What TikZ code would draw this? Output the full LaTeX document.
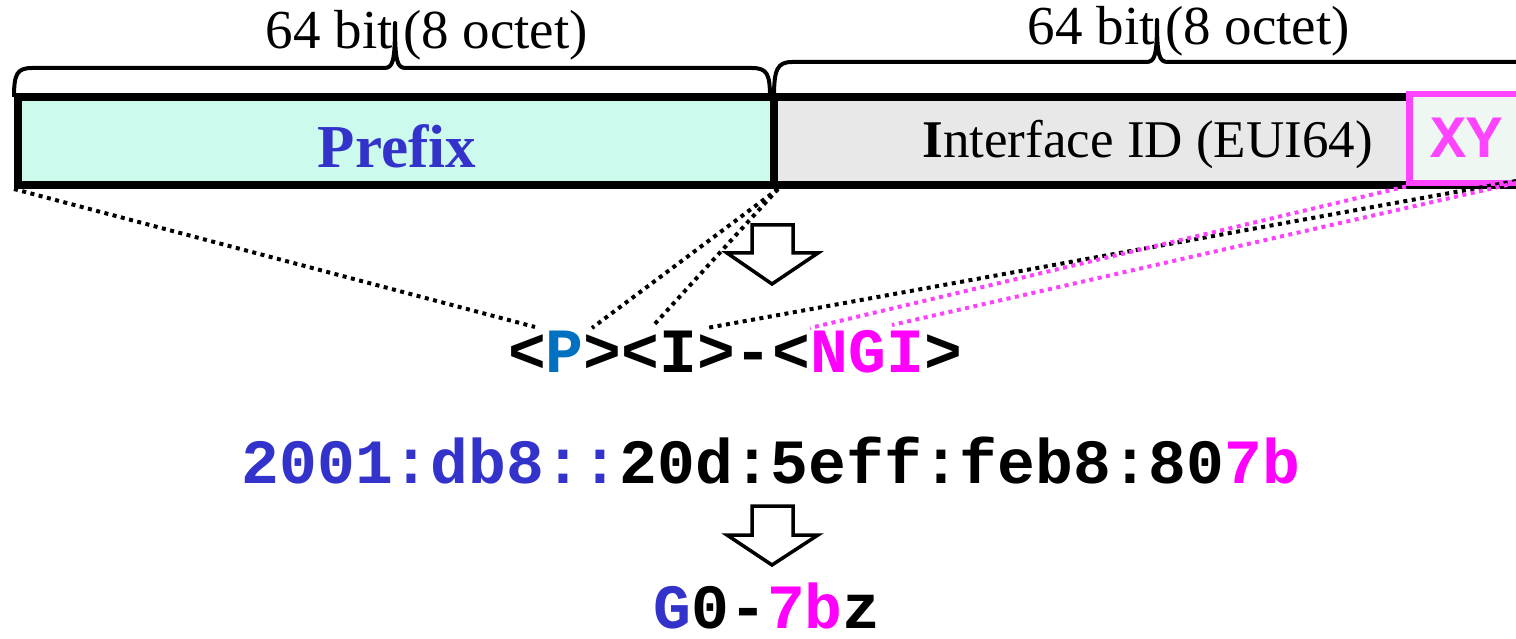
\documentclass[tikz,border=0pt]{standalone}
\usepackage{fontspec}
\setmainfont{Liberation Serif}
\newfontfamily\cour{Liberation Mono}
\definecolor{pfxfill}{HTML}{CCFBEE}
\definecolor{iidfill}{HTML}{E8E8E8}
\definecolor{xyfill}{HTML}{EEF7F2}
\definecolor{pfxblue}{HTML}{3333CC}
\definecolor{pblue}{HTML}{0070C0}
\definecolor{mag}{HTML}{FF00FF}
\definecolor{xymag}{HTML}{FF44FF}
\tikzset{
  field/.style={draw=black, line width=8pt, anchor=north west, inner sep=0pt},
  brace/.style={line width=4pt, line join=round},
  dots/.style={line width=4pt, dash pattern=on 4pt off 4.5pt},
  magdots/.style={dots, draw=mag!75},
  hollow/.style={draw=black, line width=3.5pt, fill=white, line join=miter},
  code/.style={inner sep=0pt, anchor=base, font=\cour\bfseries\fontsize{63}{63}\selectfont},
  lbl/.style={inner sep=0pt, font=\fontsize{55}{55}\selectfont},
}
\begin{document}
\begin{tikzpicture}[x=1pt,y=-1pt]
\useasboundingbox (0,0) rectangle (1516,639);

% address fields
\node[field, fill=iidfill, minimum width=770pt, minimum height=88pt] (iid) at (770,93) {};
\node[field, fill=pfxfill, minimum width=756pt, minimum height=88pt] (pfx) at (14,93) {};
\node[draw=xymag, fill=xyfill, line width=6.5pt, anchor=north west, inner sep=0pt,
      minimum width=130pt, minimum height=89pt] (xy) at (1406,91) {};

\node[inner sep=0pt, anchor=base, text=pfxblue, font=\bfseries\fontsize{61}{61}\selectfont] (ptxt) at (397,168) {Prefix};
\node[inner sep=0pt, anchor=base east, font=\fontsize{53}{53}\selectfont] (itxt) at (1373,158) {\textbf{I}nterface ID (EUI64)};
\node[inner sep=0pt, anchor=base, text=xymag, font=\cour\bfseries\fontsize{60}{60}\selectfont] (xytxt) at (1466,158) {XY};

% size braces
\draw[brace] (14,97) .. controls (14,74) and (17,68) .. (32,68) -- (384,68)
  .. controls (393,68) and (395,62) .. (395,23)
  .. controls (395,62) and (397,68) .. (406,68) -- (752,68)
  .. controls (767,68) and (770,74) .. (770,97);
\draw[brace] (774,97) .. controls (774,70) and (777,62) .. (792,62) -- (1146,62)
  .. controls (1155,62) and (1157,56) .. (1157,20)
  .. controls (1157,56) and (1159,62) .. (1168,62) -- (1520,62)
  .. controls (1535,62) and (1538,70) .. (1538,97);
\node[lbl, anchor=base east] (b1) at (393,49) {64 bit};
\node[lbl, anchor=base west] (o1) at (403,49) {(8 octet)};
\node[lbl, anchor=base east] (b2) at (1155,45) {64 bit};
\node[lbl, anchor=base west] (o2) at (1165,45) {(8 octet)};

% template and address lines
\node[code] (tmpl) at (735,372) {<\textcolor{pblue}{P}><I>-<\textcolor{mag}{NGI}>};
\node[code] (addr) at (771,483) {\textcolor{pfxblue}{2001:db8::}20d:5eff:feb8:80\textcolor{mag}{7b}};
\node[code] (name) at (767,628) {\textcolor{pfxblue}{G}0-\textcolor{mag}{7b}z};

% ends of the mapping lines at the template characters
\coordinate (tP1) at (535,327);
\coordinate (tP2) at (592,328);
\coordinate (tI1) at (652,327);
\coordinate (tI2) at (707,328);
\coordinate (tN1) at (810,328);
\coordinate (tN2) at (892,325);

% mapping lines
\draw[dots] (pfx.south west) -- (tP1);
\draw[dots] (pfx.south east) -- (tP2);
\draw[dots] (pfx.south east) -- (tI1);
\draw[dots] (1516,181) coordinate (iidr) -- (tI2);
\draw[magdots] (xy.south west) -- (tN1);
\draw[magdots] (1516,183) coordinate (xyr) -- (tN2);

% hollow arrows
\draw[hollow] (752,225) -- (793,225) -- (793,253) -- (818,253) -- (772,284)
  -- (727,253) -- (752,253) -- cycle;
\draw[hollow] (752,506) -- (793,506) -- (793,535) -- (818,535) -- (772,565)
  -- (727,535) -- (752,535) -- cycle;
\end{tikzpicture}
\end{document}
